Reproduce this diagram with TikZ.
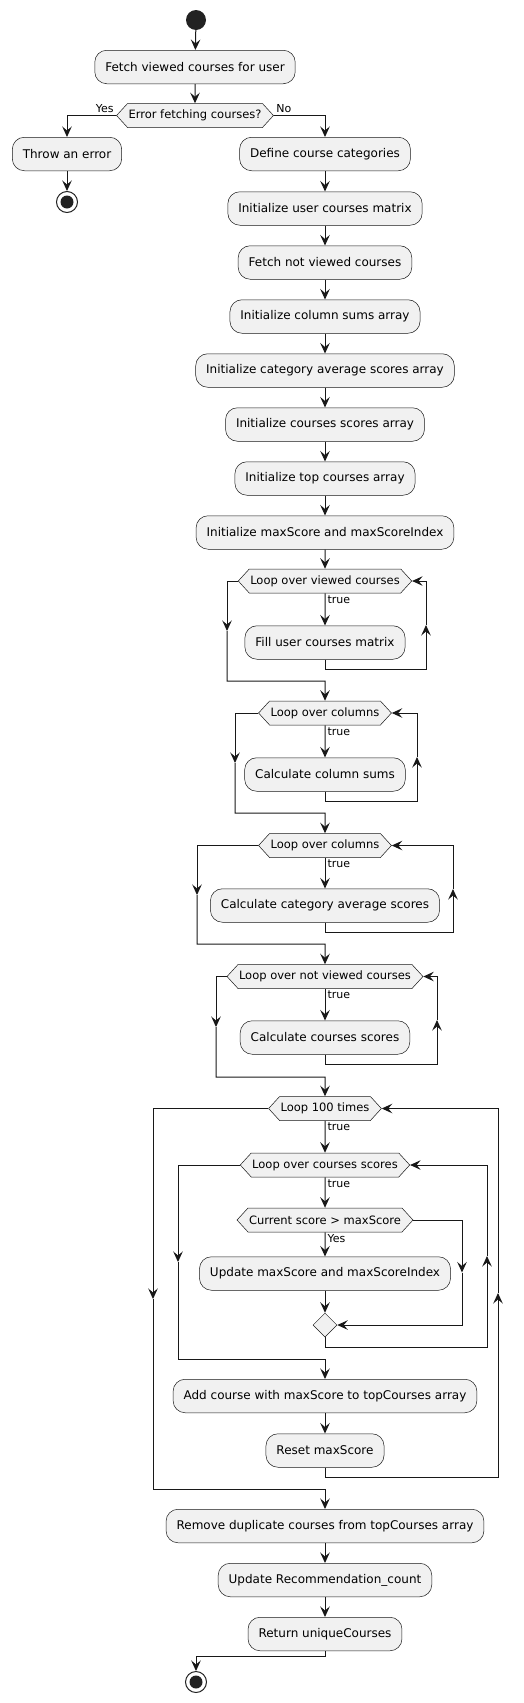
\documentclass[tikz,border=0pt]{standalone}
\usepackage{fontspec}
\setmainfont{DejaVu Sans}
\usetikzlibrary{arrows.meta,shapes.symbols,shapes.geometric}
\definecolor{actfill}{HTML}{F1F1F1}
\definecolor{ink}{HTML}{181818}
\definecolor{dot}{HTML}{222222}
\tikzset{
  act/.style={rectangle, rounded corners=12pt, draw=ink, line width=0.5pt, fill=actfill,
    minimum height=33.5pt, inner xsep=10.5pt, font=\fontsize{12}{14}\selectfont},
  cond/.style={signal, signal to=west and east, signal pointer angle=95, draw=ink,
    line width=0.5pt, fill=actfill, minimum height=24pt, inner xsep=1pt, inner ysep=0pt,
    font=\fontsize{11.5}{13}\selectfont},
  lbl/.style={font=\fontsize{11}{13}\selectfont, inner sep=2pt},
  startnode/.style={circle, fill=dot, minimum size=20pt, inner sep=0pt},
  stopnode/.style={circle, draw=dot, line width=1pt, fill=white, minimum size=21pt, inner sep=0pt,
    path picture={\fill[dot] (path picture bounding box.center) circle (6.5pt);}},
  mergenode/.style={diamond, draw=ink, line width=0.5pt, fill=actfill, minimum size=24pt, inner sep=0pt},
  flow/.style={line width=1pt, draw=ink, -{Stealth[length=10.5pt, width=9.5pt, inset=4pt]}},
}
\begin{document}
\begin{tikzpicture}[x=1pt,y=-1pt]
\useasboundingbox (0,0) rectangle (523,1703);
\path node[startnode] (start) at (196,20) {}
node[act] (fetch) at (195,67) {Fetch viewed courses for user}
node[cond] (err) at (195,115.5) {Error fetching courses?}
node[act] (throw) at (67,154) {Throw an error}
node[stopnode] (stopA) at (67,202) {}
node[act] (define) at (325,154) {Define course categories}
node[act] (initMat) at (325,208.5) {Initialize user courses matrix}
node[act] (fetchNot) at (325,262.5) {Fetch not viewed courses}
node[act] (colArr) at (325,316.5) {Initialize column sums array}
node[act] (catArr) at (325,370.5) {Initialize category average scores array}
node[act] (scoreArr) at (325,424.5) {Initialize courses scores array}
node[act] (topArr) at (325,478.5) {Initialize top courses array}
node[act] (maxInit) at (325,532.5) {Initialize maxScore and maxScoreIndex}
node[cond] (lpViewed) at (325,581) {Loop over viewed courses}
node[act] (fillMat) at (325,642.5) {Fill user courses matrix}
node[cond] (lpColsA) at (325,713) {Loop over columns}
node[act] (colSums) at (325,774.5) {Calculate column sums}
node[cond] (lpColsB) at (325,845.5) {Loop over columns}
node[act] (catAvg) at (325,905.5) {Calculate category average scores}
node[cond] (lpNot) at (325,976.5) {Loop over not viewed courses}
node[act] (scores) at (325,1037.5) {Calculate courses scores}
node[cond] (lp100) at (325,1108.5) {Loop 100 times}
node[cond] (lpScores) at (325,1165) {Loop over courses scores}
node[cond] (curScore) at (325,1220) {Current score > maxScore}
node[act] (updMax) at (325,1273.5) {Update maxScore and maxScoreIndex}
node[mergenode] (merge) at (325,1325) {}
node[act] (addTop) at (325,1396) {Add course with maxScore to topCourses array}
node[act] (resetMax) at (325,1450.5) {Reset maxScore}
node[act] (removeDup) at (325,1526) {Remove duplicate courses from topCourses array}
node[act] (updRec) at (325,1580) {Update Recommendation\_count}
node[act] (retUnique) at (325,1634) {Return uniqueCourses}
node[stopnode] (stopB) at (196,1682) {}
;
\coordinate (lvL) at (227,631);
\coordinate (lvLB) at (325,681);
\coordinate (lvRB) at (426,669);
\coordinate (lvR) at (426,625);
\coordinate (caL) at (235,763);
\coordinate (caLB) at (325,813);
\coordinate (caRB) at (417,801);
\coordinate (caR) at (417,757);
\coordinate (cbL) at (197,895);
\coordinate (cbLB) at (325,944);
\coordinate (cbRB) at (453,932);
\coordinate (cbR) at (453,889);
\coordinate (nvL) at (216,1027);
\coordinate (nvLB) at (325,1077);
\coordinate (nvRB) at (437,1064);
\coordinate (nvR) at (437,1020);
\coordinate (hL) at (153,1299);
\coordinate (hLB) at (325,1489);
\coordinate (hRB) at (498,1477);
\coordinate (hR) at (498,1293);
\coordinate (sL) at (178,1262);
\coordinate (sLB) at (325,1359);
\coordinate (sRB) at (487,1347);
\coordinate (sR) at (487,1256);
\coordinate (csR) at (462,1272.5);
\coordinate (retB) at (325,1656);
\draw[flow] (start) -- (fetch);
\draw[flow] (fetch) -- (err);
\draw[flow] (err) -| node[lbl, pos=0, anchor=south east] {Yes} (throw);
\draw[flow] (err) -| node[lbl, pos=0, anchor=south west] {No} (define);
\draw[flow] (throw) -- (stopA);
\draw[flow] (define) -- (initMat);
\draw[flow] (initMat) -- (fetchNot);
\draw[flow] (fetchNot) -- (colArr);
\draw[flow] (colArr) -- (catArr);
\draw[flow] (catArr) -- (scoreArr);
\draw[flow] (scoreArr) -- (topArr);
\draw[flow] (topArr) -- (maxInit);
\draw[flow] (maxInit) -- (lpViewed);
\draw[flow] (lpViewed) -- node[lbl, pos=0, anchor=north west] {true} (fillMat);
\draw[flow] (lpViewed) -| (lvL);
\draw[flow] (lvL) |- (lvLB) -- (lpColsA);
\draw[flow] (fillMat) |- (lvRB) -- (lvR);
\draw[flow] (lvR) |- (lpViewed);
\draw[flow] (lpColsA) -- node[lbl, pos=0, anchor=north west] {true} (colSums);
\draw[flow] (lpColsA) -| (caL);
\draw[flow] (caL) |- (caLB) -- (lpColsB);
\draw[flow] (colSums) |- (caRB) -- (caR);
\draw[flow] (caR) |- (lpColsA);
\draw[flow] (lpColsB) -- node[lbl, pos=0, anchor=north west] {true} (catAvg);
\draw[flow] (lpColsB) -| (cbL);
\draw[flow] (cbL) |- (cbLB) -- (lpNot);
\draw[flow] (catAvg) |- (cbRB) -- (cbR);
\draw[flow] (cbR) |- (lpColsB);
\draw[flow] (lpNot) -- node[lbl, pos=0, anchor=north west] {true} (scores);
\draw[flow] (lpNot) -| (nvL);
\draw[flow] (nvL) |- (nvLB) -- (lp100);
\draw[flow] (scores) |- (nvRB) -- (nvR);
\draw[flow] (nvR) |- (lpNot);
\draw[flow] (lp100) -- node[lbl, pos=0, anchor=north west] {true} (lpScores);
\draw[flow] (lpScores) -- node[lbl, pos=0, anchor=north west] {true} (curScore);
\draw[flow] (curScore) -- node[lbl, pos=0, anchor=north west] {Yes} (updMax);
\draw[flow] (updMax) -- (merge);
\draw[flow] (curScore) -| (csR);
\draw[flow] (csR) |- (merge);
\draw[flow] (merge) |- (sRB) -- (sR);
\draw[flow] (sR) |- (lpScores);
\draw[flow] (lpScores) -| (sL);
\draw[flow] (sL) |- (sLB) -- (addTop);
\draw[flow] (addTop) -- (resetMax);
\draw[flow] (resetMax) |- (hRB) -- (hR);
\draw[flow] (hR) |- (lp100);
\draw[flow] (lp100) -| (hL);
\draw[flow] (hL) |- (hLB) -- (removeDup);
\draw[flow] (removeDup) -- (updRec);
\draw[flow] (updRec) -- (retUnique);
\draw[flow] (retUnique) -- (retB) -| (stopB);
\end{tikzpicture}
\end{document}
